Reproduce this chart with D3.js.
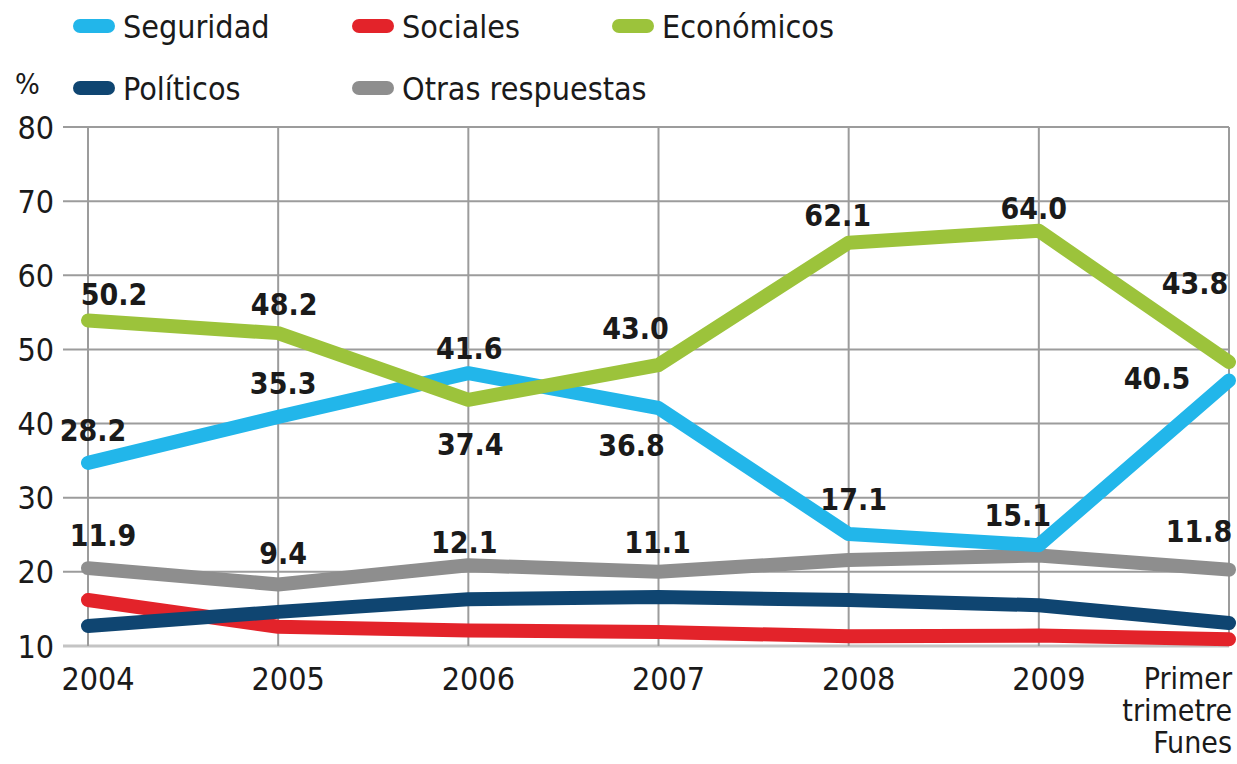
<!DOCTYPE html>
<html>
<head>
<meta charset="utf-8">
<script src="https://cdn.jsdelivr.net/npm/d3@7"></script>
<style>
  body { margin: 0; background: #fff; }
  svg text { font-family: "DejaVu Sans", sans-serif; font-stretch: condensed; fill: #1a1a1a; }
</style>
</head>
<body>
<div id="chart"></div>
<script>
var categories = ["2004", "2005", "2006", "2007", "2008", "2009", "Primer trimetre Funes"];

// plotted positions as drawn in the picture
var seguridad = [34.7, 40.9, 46.8, 42.1, 25.1, 23.6, 45.8];
var sociales  = [16.2, 12.6, 12.1, 11.9, 11.3, 11.4, 10.9];
var economicos = [53.9, 52.2, 43.2, 47.9, 64.4, 66.0, 48.3];
var politicos = [12.7, 14.6, 16.3, 16.6, 16.2, 15.5, 13.1];
var otras     = [20.5, 18.3, 20.9, 20.0, 21.6, 22.2, 20.3];

// printed value labels
var seguridadLabels = ["28.2", "35.3", "41.6", "36.8", "17.1", "15.1", "40.5"];
var economicosLabels = ["50.2", "48.2", "37.4", "43.0", "62.1", "64.0", "43.8"];
var otrasLabels = ["11.9", "9.4", "12.1", "11.1", null, null, "11.8"];

var yTicks = [10, 20, 30, 40, 50, 60, 70, 80];

var series = [
  {name: "Sociales", values: sociales, color: "#e3232a"},
  {name: "Políticos", values: politicos, color: "#0f4571"},
  {name: "Otras respuestas", values: otras, color: "#8e8e8e", labels: otrasLabels,
   offsets: [[15,-33],[5,-31],[-4,-23],[-1,-30],null,null,[-30,-38]]},
  {name: "Seguridad", values: seguridad, color: "#22b6ea", labels: seguridadLabels,
   offsets: [[5,-33],[5,-34],[1,-25],[-27,37],[5,-35],[-21,-30],[-72,-2]]},
  {name: "Económicos", values: economicos, color: "#9cc33b", labels: economicosLabels,
   offsets: [[26,-26],[6,-29],[2,44],[-23,-37],[-11,-27],[-5,-23],[-34,-79]]}
];

var legendOrder = ["Seguridad", "Sociales", "Económicos", "Políticos", "Otras respuestas"];
var legendPos = [[73, 26], [352, 26], [612, 26], [73, 88], [352, 88]];

var W = 1237, H = 764;

var svg = d3.select("#chart")
            .append("svg")
              .attr("width", W)
              .attr("height", H);

var x = d3.scalePoint()
          .domain(categories)
          .range([88, 1229]);

var y = d3.scaleLinear()
          .domain([10, 80])
          .range([646, 127]);

// horizontal grid
svg.append("g")
  .selectAll("line")
  .data(yTicks)
  .enter().append("line")
    .attr("x1", 63)
    .attr("x2", x(categories[categories.length - 1]))
    .attr("y1", function(d) { return y(d); })
    .attr("y2", function(d) { return y(d); })
    .attr("stroke", function(d) { return d === 10 ? "#c4c4c4" : "#9c9c9c"; })
    .attr("stroke-width", function(d) { return d === 10 ? 3 : 2; });

// vertical grid
svg.append("g")
  .selectAll("line")
  .data(categories)
  .enter().append("line")
    .attr("x1", function(d) { return x(d); })
    .attr("x2", function(d) { return x(d); })
    .attr("y1", y(80))
    .attr("y2", y(10))
    .attr("stroke", "#9c9c9c")
    .attr("stroke-width", 2);

// y labels
svg.append("g")
  .selectAll("text")
  .data(yTicks)
  .enter().append("text")
    .attr("x", 54)
    .attr("y", function(d) { return y(d); })
    .attr("dy", "0.36em")
    .attr("text-anchor", "end")
    .attr("font-size", 32)
    .text(function(d) { return d; });

svg.append("text")
  .attr("x", 15)
  .attr("y", 94)
  .attr("font-size", 29)
  .text("%");

// x labels
categories.forEach(function(c, i) {
  if (i < categories.length - 1) {
    svg.append("text")
      .attr("x", x(c) + 10)
      .attr("y", 690)
      .attr("text-anchor", "middle")
      .attr("font-size", 32)
      .text(c);
  }
  else {
    var t = svg.append("text")
      .attr("text-anchor", "end")
      .attr("font-size", 30);
    ["Primer", "trimetre", "Funes"].forEach(function(w, j) {
      t.append("tspan")
        .attr("x", 1232)
        .attr("y", 689 + j * 32)
        .text(w);
    });
  }
});

// lines
var line = d3.line()
  .x(function(d, i) { return x(categories[i]); })
  .y(function(d) { return y(d); });

svg.append("g")
  .selectAll("path")
  .data(series)
  .enter().append("path")
    .attr("d", function(d) { return line(d.values); })
    .attr("fill", "none")
    .attr("stroke", function(d) { return d.color; })
    .attr("stroke-width", 14)
    .attr("stroke-linecap", "round")
    .attr("stroke-linejoin", "round");

// value labels
series.forEach(function(s) {
  if (!s.labels) return;
  s.labels.forEach(function(lab, i) {
    if (lab === null) return;
    svg.append("text")
      .attr("x", x(categories[i]) + s.offsets[i][0])
      .attr("y", y(s.values[i]) + s.offsets[i][1])
      .attr("dy", "0.36em")
      .attr("text-anchor", "middle")
      .attr("font-size", 30)
      .attr("font-weight", "bold")
      .text(lab);
  });
});

// legend
legendOrder.forEach(function(name, i) {
  var s = series.filter(function(d) { return d.name === name; })[0];
  var p = legendPos[i];
  var g = svg.append("g").attr("transform", "translate(" + p[0] + "," + p[1] + ")");
  g.append("rect")
    .attr("x", 0)
    .attr("y", -7)
    .attr("width", 42)
    .attr("height", 14)
    .attr("rx", 7)
    .attr("fill", s.color);
  g.append("text")
    .attr("x", 50)
    .attr("y", 0)
    .attr("dy", "0.36em")
    .attr("font-size", 32)
    .text(name);
});
</script>
</body>
</html>
